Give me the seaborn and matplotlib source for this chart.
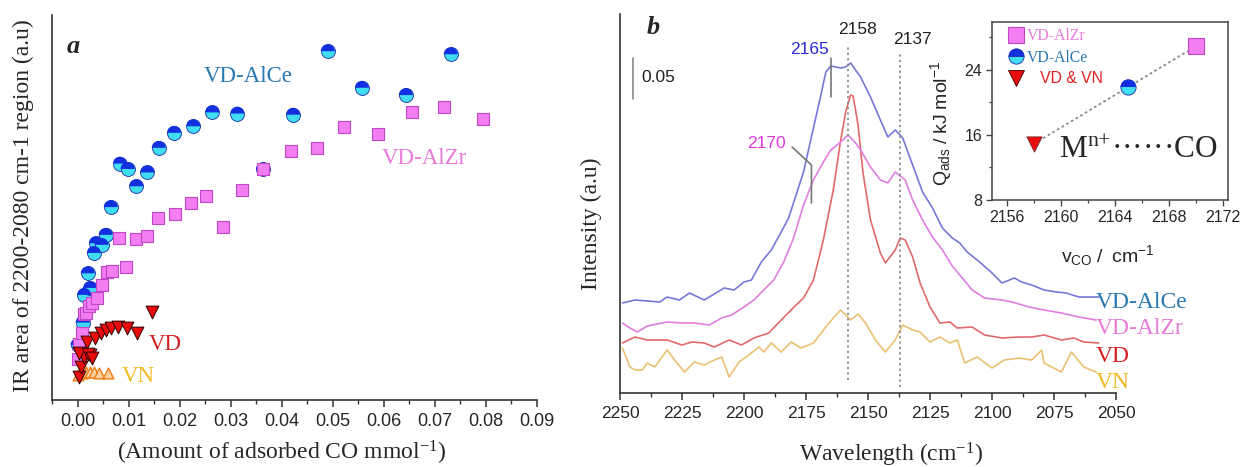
import numpy as np
import matplotlib
matplotlib.use("Agg")
import matplotlib.pyplot as plt
from matplotlib.lines import Line2D
from matplotlib.markers import MarkerStyle
from matplotlib.ticker import MultipleLocator, FormatStrFormatter
import seaborn as sns

# ---------------- panel a data ----------------
alce_x = [0.0000, 0.0010, 0.0013, 0.0025, 0.0020, 0.0032, 0.0036, 0.0047, 0.0055, 0.0065, 0.0083, 0.0098,
          0.0115, 0.0137, 0.0159, 0.0189, 0.0227, 0.0264, 0.0313, 0.0363, 0.0422, 0.0490, 0.0557, 0.0643, 0.0731]
alce_y = [0.143, 0.201, 0.273, 0.291, 0.329, 0.382, 0.407, 0.403, 0.429, 0.501, 0.614, 0.600,
          0.555, 0.591, 0.655, 0.694, 0.711, 0.747, 0.744, 0.599, 0.741, 0.906, 0.811, 0.792, 0.898]
alzr_x = [0.0000, 0.0003, 0.0008, 0.0012, 0.0017, 0.0022, 0.0029, 0.0038, 0.0048, 0.0057, 0.0068, 0.0094,
          0.0082, 0.0115, 0.0137, 0.0158, 0.0190, 0.0222, 0.0252, 0.0284, 0.0322, 0.0364, 0.0419, 0.0470,
          0.0522, 0.0588, 0.0655, 0.0717, 0.0794]
alzr_y = [0.106, 0.145, 0.175, 0.223, 0.227, 0.245, 0.253, 0.266, 0.299, 0.332, 0.336, 0.345,
          0.421, 0.418, 0.426, 0.473, 0.482, 0.512, 0.529, 0.449, 0.546, 0.599, 0.648, 0.655,
          0.708, 0.691, 0.748, 0.761, 0.731]
vd_x = [0.0002, 0.0007, 0.0012, 0.0003, 0.0025, 0.0020, 0.0028, 0.0019, 0.0035, 0.0045, 0.0055, 0.0065,
        0.0080, 0.0097, 0.0117, 0.0146]
vd_y = [0.060, 0.087, 0.112, 0.122, 0.117, 0.119, 0.109, 0.151, 0.161, 0.174, 0.182, 0.187,
        0.190, 0.187, 0.174, 0.229]
vn_x = [0.0000, 0.0008, 0.0017, 0.0025, 0.0033, 0.0042, 0.0060]
vn_y = [0.066, 0.071, 0.072, 0.072, 0.072, 0.071, 0.071]

# ---------------- panel b data (wavenumber, intensity a.u.) ----------------
alce_wn = [2249, 2244, 2239, 2234, 2231, 2226, 2222, 2216, 2212, 2208, 2204, 2200, 2197, 2193, 2189, 2185,
           2182, 2179, 2176, 2172, 2169, 2167, 2165, 2163, 2161, 2159, 2157, 2155, 2153, 2149, 2145, 2142,
           2139, 2136, 2132, 2128, 2124, 2120, 2116, 2113, 2110, 2105, 2100, 2096, 2091, 2088, 2084, 2079,
           2074, 2070, 2065, 2061, 2057]
alce_int = [90, 93, 92, 91, 96, 93, 100, 93, 99, 105, 103, 111, 113, 131, 143, 161,
            175, 198, 221, 265, 298, 321, 327, 326, 325, 326, 330, 323, 316, 296, 273, 256,
            263, 255, 228, 201, 185, 165, 155, 150, 141, 131, 120, 110, 115, 111, 108, 103,
            101, 100, 96, 96, 96]
alzr_wn = [2249, 2246, 2243, 2239, 2231, 2225, 2220, 2214, 2209, 2205, 2200, 2196, 2192, 2188, 2184, 2180,
           2176, 2172, 2168, 2165, 2161, 2158, 2155, 2153, 2149, 2145, 2142, 2139, 2135, 2132, 2128, 2124,
           2120, 2116, 2113, 2108, 2103, 2096, 2092, 2085, 2079, 2072, 2065, 2058]
alzr_int = [70, 65, 61, 67, 71, 70, 70, 68, 75, 78, 86, 93, 103, 113, 131, 155,
            188, 213, 231, 243, 251, 258, 250, 243, 226, 213, 210, 221, 213, 193, 173, 156,
            143, 127, 118, 103, 95, 93, 91, 86, 83, 80, 76, 73]
vd_wn = [2249, 2244, 2239, 2231, 2225, 2221, 2216, 2212, 2206, 2201, 2196, 2190, 2185, 2179, 2176, 2172,
         2168, 2164, 2161, 2159, 2157, 2156, 2154, 2152, 2149, 2145, 2143, 2139, 2137, 2135, 2132, 2129,
         2125, 2121, 2117, 2114, 2108, 2103, 2096, 2089, 2084, 2079, 2072, 2067, 2063, 2057]
vd_int = [50, 56, 53, 53, 48, 51, 50, 46, 53, 48, 55, 60, 73, 88, 95, 113,
          153, 203, 253, 281, 298, 297, 268, 220, 173, 140, 130, 143, 155, 153, 136, 110,
          86, 70, 71, 65, 66, 58, 55, 56, 56, 58, 53, 55, 51, 50]
vn_wn = [2249, 2246, 2244, 2241, 2239, 2236, 2231, 2228, 2224, 2220, 2216, 2212, 2209, 2206, 2202, 2198,
         2194, 2192, 2189, 2185, 2181, 2177, 2172, 2167, 2164, 2161, 2157, 2154, 2151, 2147, 2143, 2139,
         2136, 2132, 2129, 2125, 2121, 2117, 2114, 2111, 2106, 2100, 2095, 2089, 2084, 2080, 2079, 2072,
         2068, 2063, 2058]
vn_int = [45, 26, 23, 23, 30, 26, 43, 33, 21, 31, 28, 33, 36, 16, 31, 38,
          46, 41, 50, 41, 51, 45, 50, 66, 75, 83, 73, 79, 70, 53, 41, 53,
          68, 63, 61, 51, 56, 50, 53, 30, 36, 25, 33, 35, 33, 43, 30, 21,
          41, 26, 21]
peak_pos = [2158, 2137]
peak_lo = [13, 6]
peak_hi = [348, 340]

# ---------------- inset data ----------------
ins_nu = [2158, 2165, 2170]
ins_q = [14.9, 21.9, 26.9]

# ---------------- style ----------------
sns.set_theme(style="white")
plt.rcParams["font.family"] = ["Liberation Sans", "DejaVu Sans"]
plt.rcParams["mathtext.fontset"] = "custom"
plt.rcParams["mathtext.rm"] = "Liberation Serif"
plt.rcParams["mathtext.it"] = "Liberation Serif:italic"
plt.rcParams["mathtext.bf"] = "Liberation Serif:bold"
plt.rcParams["mathtext.sf"] = "Liberation Sans"
SERIF = ["Liberation Serif", "DejaVu Serif"]

W, H = 1240, 467
fig = plt.figure(figsize=(12.4, 4.67), dpi=100)
axa = fig.add_axes([52 / W, 1 - 400 / H, 485 / W, 385 / H])
axb = fig.add_axes([620 / W, 1 - 393 / H, 496 / W, 379 / H])
axi = fig.add_axes([992 / W, 1 - 200 / H, 236 / W, 178 / H])

SPINE = "#333333"

# ---------------- panel a ----------------
sns.scatterplot(x=alce_x, y=alce_y, ax=axa, marker="o", s=100, color="#3fdcf2",
                edgecolor="#1a2aa8", linewidth=0.6, zorder=3)
sns.scatterplot(x=alce_x, y=alce_y, ax=axa, marker=MarkerStyle("o", fillstyle="top"), s=100,
                color="#1330e0", edgecolor="none", linewidth=0, zorder=4)
sns.scatterplot(x=alzr_x, y=alzr_y, ax=axa, marker="s", s=72, color="#f27ef2",
                edgecolor="#c247c8", linewidth=0.8, zorder=5)
sns.scatterplot(x=vn_x, y=vn_y, ax=axa, marker="^", s=60, color="#ffcf9f",
                edgecolor="#f07d14", linewidth=1.0, zorder=6)
sns.scatterplot(x=vd_x, y=vd_y, ax=axa, marker="v", s=85, color="#e80c0c",
                edgecolor="#2a0000", linewidth=0.7, zorder=7)

axa.set_xlim(-0.005, 0.09)
axa.set_ylim(0, 1)
axa.set_yticks([])
axa.xaxis.set_major_locator(MultipleLocator(0.01))
axa.xaxis.set_minor_locator(MultipleLocator(0.005))
axa.xaxis.set_major_formatter(FormatStrFormatter("%.2f"))
sns.despine(ax=axa)
for sp in ["left", "bottom"]:
    axa.spines[sp].set_color(SPINE)
    axa.spines[sp].set_linewidth(1.2)
axa.tick_params(axis="x", which="major", direction="out", length=5, width=1.1, color=SPINE,
                labelsize=13, pad=4, bottom=True)
axa.tick_params(axis="x", which="minor", direction="out", length=3, width=1.0, color=SPINE, bottom=True)
axa.set_xlabel("(Amount of adsorbed CO mmol$^{\\mathrm{-1}}$)", fontsize=17, family=SERIF)
axa.xaxis.set_label_coords(0.474, -0.10)
axa.set_ylabel("IR area of 2200-2080 cm-1 region (a.u)", fontsize=17, family=SERIF)
axa.yaxis.set_label_coords(-0.037, 0.505)

axa.text(0.0335, 0.839, "VD-AlCe", color="#2a78b2", fontsize=16.5, family=SERIF, ha="center", va="center")
axa.text(0.0679, 0.628, "VD-AlZr", color="#e87ad8", fontsize=16.5, family=SERIF, ha="center", va="center")
axa.text(0.0172, 0.143, "VD", color="#d42020", fontsize=16.5, family=SERIF, ha="center", va="center")
axa.text(0.0119, 0.062, "VN", color="#f0ba22", fontsize=16.5, family=SERIF, ha="center", va="center")
axa.text(-0.0008, 0.917, "a", fontsize=19, family=SERIF, weight="bold", style="italic",
         ha="center", va="center")

# ---------------- panel b ----------------
for wn, it, col in [(vn_wn, vn_int, "#ecc072"), (vd_wn, vd_int, "#e06a6a"),
                    (alzr_wn, alzr_int, "#e27de2"), (alce_wn, alce_int, "#7878d8")]:
    sns.lineplot(x=wn, y=it, ax=axb, color=col, linewidth=1.2, estimator=None)

axb.vlines(peak_pos, peak_lo, peak_hi, colors="#8a8a8a", linestyles=(0, (1.2, 1.8)), linewidth=1.3)
axb.set_xlim(2250, 2050)
axb.set_ylim(0, 379)
axb.set_yticks([])
axb.xaxis.set_major_locator(MultipleLocator(25))
axb.xaxis.set_minor_locator(MultipleLocator(12.5))
sns.despine(ax=axb)
for sp in ["left", "bottom"]:
    axb.spines[sp].set_color(SPINE)
    axb.spines[sp].set_linewidth(1.2)
axb.tick_params(axis="x", which="major", direction="out", length=5, width=1.1, color=SPINE,
                labelsize=12.5, pad=4, bottom=True)
axb.tick_params(axis="x", which="minor", direction="out", length=3, width=1.0, color=SPINE, bottom=True)
axb.set_xlabel("Wavelength (cm$^{\\mathrm{-1}}$)", fontsize=17, family=SERIF)
axb.xaxis.set_label_coords(0.546, -0.125)
axb.set_ylabel("Intensity (a.u)", fontsize=17, family=SERIF)
axb.yaxis.set_label_coords(-0.036, 0.446)

# annotations
axb.plot([2244.8, 2244.8], [294, 335], color="#8a8a8a", lw=1.2)
axb.text(2241.3, 315, "0.05", fontsize=12.5, ha="left", va="center", color="#222222")
axb.text(2236.7, 366, "b", fontsize=19, family=SERIF, weight="bold", style="italic", ha="center", va="center")
axb.text(2154.4, 364, "2158", fontsize=12.5, ha="center", va="center", color="#222222")
axb.text(2131.9, 354, "2137", fontsize=12.5, ha="center", va="center", color="#222222")
axb.text(2173.6, 343, "2165", fontsize=12.5, ha="center", va="center", color="#2a2ad0")
axb.plot([2165, 2165], [296, 335], color="#777777", lw=1.2)
axb.text(2190.9, 250, "2170", fontsize=12.5, ha="center", va="center", color="#e038e0")
axb.plot([2180.6, 2172.8, 2172.8], [246, 228, 190], color="#777777", lw=1.2)

for txt, yy, col in [("VD-AlCe", 91, "#2a78b2"), ("VD-AlZr", 65, "#e87ad8"),
                     ("VD", 36, "#d42020"), ("VN", 10, "#f0ba22")]:
    axb.text(2058.2, yy, txt, color=col, fontsize=17, family=SERIF, ha="left", va="center", clip_on=False)

# ---------------- inset ----------------
sns.lineplot(x=ins_nu, y=ins_q, ax=axi, color="#8a8a8a", linewidth=1.3, linestyle=(0, (1.5, 1.5)),
             estimator=None)
sns.scatterplot(x=ins_nu[2:], y=ins_q[2:], ax=axi, marker="s", s=120, color="#f27ef2",
                edgecolor="#c247c8", linewidth=0.8, zorder=5)
sns.scatterplot(x=ins_nu[1:2], y=ins_q[1:2], ax=axi, marker="o", s=120, color="#3fdcf2",
                edgecolor="#1a2aa8", linewidth=0.6, zorder=5)
sns.scatterplot(x=ins_nu[1:2], y=ins_q[1:2], ax=axi, marker=MarkerStyle("o", fillstyle="top"), s=120,
                color="#1330e0", edgecolor="none", linewidth=0, zorder=6)
sns.scatterplot(x=ins_nu[:1], y=ins_q[:1], ax=axi, marker="v", s=120, color="#e80c0c",
                edgecolor="#7a2a2a", linewidth=0.6, zorder=5)

axi.set_xlim(2154.9, 2172.4)
axi.set_ylim(8, 29.9)
axi.xaxis.set_major_locator(MultipleLocator(4))
axi.xaxis.set_minor_locator(MultipleLocator(2))
axi.yaxis.set_major_locator(MultipleLocator(8))
axi.yaxis.set_minor_locator(MultipleLocator(4))
for sp in axi.spines.values():
    sp.set_visible(True)
    sp.set_color("#444444")
    sp.set_linewidth(1.1)
axi.tick_params(which="major", direction="out", length=4, width=1.0, color="#444444",
                labelsize=11.5, pad=3, bottom=True, left=True)
axi.tick_params(which="minor", direction="out", length=2.5, width=0.9, color="#444444",
                bottom=True, left=True)
axi.set_xlabel(r"$\mathsf{v_{CO}\ /\ \ cm^{-1}}$", fontsize=14)
axi.xaxis.set_label_coords(0.49, -0.24)
axi.set_ylabel(r"$\mathsf{Q_{ads}\ /\ kJ\ mol^{-1}}$", fontsize=14)
axi.yaxis.set_label_coords(-0.16, 0.43)
axi.text(2159.9, 13.2, "M$^{\\mathrm{n{+}}}$······CO", fontsize=22.5, family=SERIF, ha="left", va="baseline")

handles = [
    Line2D([], [], ls="none", marker="s", markersize=11, markerfacecolor="#f27ef2",
           markeredgecolor="#c247c8", markeredgewidth=0.8),
    Line2D([], [], ls="none", marker="o", markersize=11, fillstyle="top", markerfacecolor="#1330e0",
           markerfacecoloralt="#3fdcf2", markeredgecolor="#1a2aa8", markeredgewidth=0.6),
    Line2D([], [], ls="none", marker="v", markersize=12, markerfacecolor="#e80c0c",
           markeredgecolor="#3a0000", markeredgewidth=0.6),
]
leg = axi.legend(handles, ["VD-AlZr", "VD-AlCe", "   VD & VN"], loc="upper left",
                 bbox_to_anchor=(0.067, 0.965), frameon=False, handlelength=1.0, handletextpad=0.2,
                 labelspacing=0.35, borderaxespad=0, borderpad=0, fontsize=11.3)
for t, col, fam in zip(leg.get_texts(), ["#e87ad8", "#2a78b2", "#e02020"],
                       [SERIF, SERIF, ["Liberation Sans"]]):
    t.set_color(col)
    t.set_family(fam)

fig.savefig("out.png", dpi=100)
